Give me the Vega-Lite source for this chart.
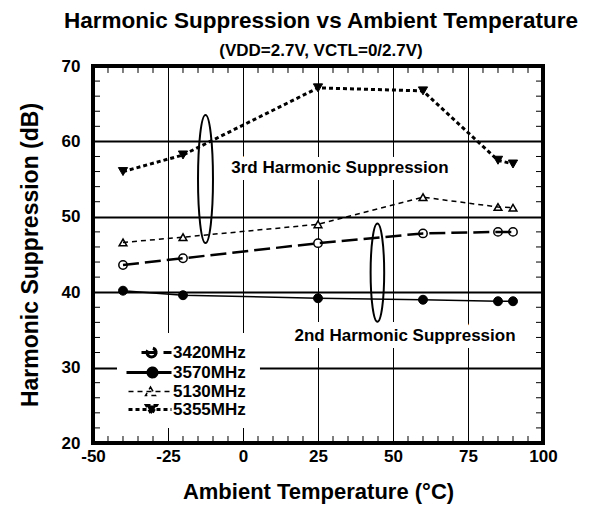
{
  "$schema": "https://vega.github.io/schema/vega-lite/v6.json",
  "width": 450,
  "height": 377,
  "autosize": {"type": "none"},
  "padding": {"left": 93, "top": 66, "right": 47, "bottom": 67},
  "background": "white",
  "config": {
    "view": {"stroke": "black", "strokeWidth": 4},
    "font": "Liberation Sans"
  },
  "title": {
    "text": "Harmonic Suppression vs Ambient Temperature",
    "subtitle": "(VDD=2.7V, VCTL=0/2.7V)",
    "font": "Liberation Sans", "subtitleFont": "Liberation Sans",
    "fontSize": 22.5, "subtitleFontSize": 17,
    "fontWeight": "bold", "subtitleFontWeight": "bold",
    "color": "black", "subtitleColor": "black",
    "anchor": "middle", "frame": "group", "offset": -2, "subtitlePadding": 11, "dx": 3
  },
  "datasets": {
    "series": [
      {"t": -40, "v": 43.6, "s": "3420MHz"},
      {"t": -20, "v": 44.5, "s": "3420MHz"},
      {"t": 25, "v": 46.5, "s": "3420MHz"},
      {"t": 60, "v": 47.8, "s": "3420MHz"},
      {"t": 85, "v": 48.0, "s": "3420MHz"},
      {"t": 90, "v": 48.0, "s": "3420MHz"},
      {"t": -40, "v": 40.2, "s": "3570MHz"},
      {"t": -20, "v": 39.6, "s": "3570MHz"},
      {"t": 25, "v": 39.2, "s": "3570MHz"},
      {"t": 60, "v": 39.0, "s": "3570MHz"},
      {"t": 85, "v": 38.8, "s": "3570MHz"},
      {"t": 90, "v": 38.8, "s": "3570MHz"},
      {"t": -40, "v": 46.6, "s": "5130MHz"},
      {"t": -20, "v": 47.3, "s": "5130MHz"},
      {"t": 25, "v": 49.0, "s": "5130MHz"},
      {"t": 60, "v": 52.6, "s": "5130MHz"},
      {"t": 85, "v": 51.3, "s": "5130MHz"},
      {"t": 90, "v": 51.2, "s": "5130MHz"},
      {"t": -40, "v": 56.0, "s": "5355MHz"},
      {"t": -20, "v": 58.2, "s": "5355MHz"},
      {"t": 25, "v": 67.1, "s": "5355MHz"},
      {"t": 60, "v": 66.7, "s": "5355MHz"},
      {"t": 85, "v": 57.5, "s": "5355MHz"},
      {"t": 90, "v": 57.0, "s": "5355MHz"}
    ],
    "notes": [
      {"t": 32.3, "v": 56.5, "label": "3rd Harmonic Suppression"},
      {"t": 54, "v": 34.2, "label": "2nd Harmonic Suppression"}
    ]
  },
  "layer": [
    {
      "data": {"name": "series"},
      "transform": [{"filter": {"field": "s", "equal": "3420MHz"}}],
      "mark": {"type": "point", "shape": "circle", "filled": true, "fill": "white", "stroke": "black", "strokeWidth": 1.5, "size": 70, "opacity": 1},
      "encoding": {
        "x": {"field": "t", "type": "quantitative", "scale": {"domain": [-50, 100], "nice": false, "zero": false},
          "axis": {"orient": "bottom", "values": [-50, -25, 0, 25, 50, 75, 100], "grid": true, "gridColor": "black", "gridWidth": 1, "ticks": false,
            "domain": false,
            "labelFont": "Liberation Sans", "labelFontWeight": "bold", "labelFontSize": 17, "labelColor": "black",
            "labelFlush": false, "labelOverlap": false, "labelPadding": 5, "labelExpr": "'' + datum.value",
            "title": "Ambient Temperature (°C)", "titleFont": "Liberation Sans", "titleFontWeight": "bold", "titleColor": "black",
            "titleFontSize": 22, "titleX": 225, "titleY": 55, "titleBaseline": "alphabetic", "titleAlign": "center"}},
        "y": {"field": "v", "type": "quantitative", "scale": {"domain": [20, 70], "nice": false, "zero": false},
          "axis": {"orient": "left", "values": [20, 30, 40, 50, 60, 70], "grid": true, "gridColor": "black", "gridWidth": 2, "ticks": false,
            "domain": false,
            "labelFont": "Liberation Sans", "labelFontWeight": "bold", "labelFontSize": 17, "labelColor": "black",
            "labelFlush": false, "labelOverlap": false, "labelPadding": 13,
            "title": "Harmonic Suppression (dB)", "titleFont": "Liberation Sans", "titleFontWeight": "bold", "titleColor": "black",
            "titleFontSize": 23, "titleX": -56, "titleY": 188.5, "titleBaseline": "alphabetic", "titleAlign": "center", "titleAngle": -90}}
      }
    },
    {
      "data": {"name": "series"},
      "transform": [{"filter": {"field": "s", "equal": "3570MHz"}}],
      "mark": {"type": "point", "shape": "circle", "filled": true, "fill": "black", "stroke": "black", "strokeWidth": 1, "size": 80, "opacity": 1},
      "encoding": {
        "x": {"field": "t", "type": "quantitative", "axis": null},
        "y": {"field": "v", "type": "quantitative", "axis": null}
      }
    },
    {
      "data": {"name": "series"},
      "transform": [{"filter": {"field": "s", "equal": "5130MHz"}}],
      "mark": {"type": "point", "shape": "triangle-up", "filled": true, "fill": "white", "stroke": "black", "strokeWidth": 1.5, "size": 60, "opacity": 1},
      "encoding": {
        "x": {"field": "t", "type": "quantitative", "axis": null},
        "y": {"field": "v", "type": "quantitative", "axis": null}
      }
    },
    {
      "data": {"name": "series"},
      "transform": [{"filter": {"field": "s", "equal": "5355MHz"}}],
      "mark": {"type": "point", "shape": "triangle-down", "filled": true, "fill": "black", "stroke": "black", "strokeWidth": 1, "size": 85, "opacity": 1},
      "encoding": {
        "x": {"field": "t", "type": "quantitative", "axis": null},
        "y": {"field": "v", "type": "quantitative", "axis": null}
      }
    },
    {
      "data": {"name": "series"},
      "transform": [{"filter": {"field": "s", "equal": "3420MHz"}}],
      "mark": {"type": "line", "stroke": "black", "strokeWidth": 2.5, "strokeCap": "butt"},
      "encoding": {
        "x": {"field": "t", "type": "quantitative", "axis": null},
        "y": {"field": "v", "type": "quantitative", "axis": null},
        "strokeDash": {"field": "s", "type": "nominal",
          "scale": {"domain": ["3420MHz", "3570MHz", "5130MHz", "5355MHz"], "range": [[16, 6], [1, 0], [5, 4], [4, 3]]},
          "legend": {
            "orient": "none", "legendX": 24, "legendY": 270, "title": null,
            "fillColor": "white", "padding": 8,
            "labelFont": "Liberation Sans", "labelFontSize": 17, "labelFontWeight": "bold", "labelColor": "black",
            "symbolSize": 100, "symbolStrokeColor": "black", "symbolStrokeWidth": 3,
            "rowPadding": -1, "labelOffset": 31,
            "encode": {"symbols": {"update": {
              "shape": {"signal": "datum.value === '3420MHz' ? 'M1.6,0L7.6,0M4.5,0A0.9,0.9,0,1,1,2.7,0A0.9,0.9,0,1,1,4.5,0Z' : datum.value === '3570MHz' ? 'M-1.4,0L7.6,0M4.7,0A0.9,0.9,0,1,1,2.9,0A0.9,0.9,0,1,1,4.7,0Z' : datum.value === '5130MHz' ? 'M-1,0L7.6,0M3.4,-0.9L4.4,0.8L2.4,0.8Z' : 'M-1,0L7.6,0M2.6,-0.8L4.6,-0.8L3.6,0.9Z'"},
              "fill": {"signal": "datum.value === '3570MHz' || datum.value === '5355MHz' ? 'black' : 'white'"},
              "stroke": {"value": "black"},
              "strokeWidth": {"signal": "datum.value === '5130MHz' ? 1.5 : 3"}
            }}}
          }}
      }
    },
    {
      "data": {"name": "series"},
      "transform": [{"filter": {"field": "s", "equal": "3570MHz"}}],
      "mark": {"type": "line", "stroke": "black", "strokeWidth": 1.5},
      "encoding": {
        "x": {"field": "t", "type": "quantitative", "axis": null},
        "y": {"field": "v", "type": "quantitative", "axis": null}
      }
    },
    {
      "data": {"name": "series"},
      "transform": [{"filter": {"field": "s", "equal": "5130MHz"}}],
      "mark": {"type": "line", "stroke": "black", "strokeWidth": 1.5, "strokeDash": [5, 4], "strokeCap": "butt"},
      "encoding": {
        "x": {"field": "t", "type": "quantitative", "axis": null},
        "y": {"field": "v", "type": "quantitative", "axis": null}
      }
    },
    {
      "data": {"name": "series"},
      "transform": [{"filter": {"field": "s", "equal": "5355MHz"}}],
      "mark": {"type": "line", "stroke": "black", "strokeWidth": 3, "strokeDash": [4, 3], "strokeCap": "butt"},
      "encoding": {
        "x": {"field": "t", "type": "quantitative", "axis": null},
        "y": {"field": "v", "type": "quantitative", "axis": null}
      }
    },
    {
      "data": {"values": [{"t": -18.17, "v": 28.95}]},
      "mark": {"type": "point", "shape": "M-1.682,-1L1.682,-1L1.682,1L-1.682,1Z", "size": 7225, "filled": true, "fill": "white", "strokeWidth": 0, "opacity": 1},
      "encoding": {
        "x": {"field": "t", "type": "quantitative", "axis": null},
        "y": {"field": "v", "type": "quantitative", "axis": null}
      }
    },
    {
      "data": {"values": [{"t": -12.5, "v": 55.0}]},
      "mark": {"type": "point", "shape": "M0,-1A0.117,1,0,0,1,0,1A0.117,1,0,0,1,0,-1Z", "size": 16384, "filled": false, "stroke": "black", "strokeWidth": 2, "opacity": 1},
      "encoding": {
        "x": {"field": "t", "type": "quantitative", "axis": null},
        "y": {"field": "v", "type": "quantitative", "axis": null}
      }
    },
    {
      "data": {"values": [{"t": 44.8, "v": 42.6}]},
      "mark": {"type": "point", "shape": "M0,-1A0.138,1,0,0,1,0,1A0.138,1,0,0,1,0,-1Z", "size": 9683, "filled": false, "stroke": "black", "strokeWidth": 2, "opacity": 1},
      "encoding": {
        "x": {"field": "t", "type": "quantitative", "axis": null},
        "y": {"field": "v", "type": "quantitative", "axis": null}
      }
    },
    {
      "data": {"name": "notes"},
      "mark": {"type": "text", "font": "Liberation Sans", "fontWeight": "bold", "fontSize": 17, "stroke": "white", "strokeWidth": 14, "fill": "white", "baseline": "middle", "align": "center"},
      "encoding": {
        "x": {"field": "t", "type": "quantitative", "axis": null},
        "y": {"field": "v", "type": "quantitative", "axis": null},
        "text": {"field": "label"}
      }
    },
    {
      "data": {"name": "notes"},
      "mark": {"type": "text", "font": "Liberation Sans", "fontWeight": "bold", "fontSize": 17, "fill": "black", "baseline": "middle", "align": "center"},
      "encoding": {
        "x": {"field": "t", "type": "quantitative", "axis": null},
        "y": {"field": "v", "type": "quantitative", "axis": null},
        "text": {"field": "label"}
      }
    },
    {
      "data": {"values": [{"t": 25, "v": 45}]},
      "mark": {"type": "point", "shape": "M-1.1141,1L-1.1141,0.963M-1.1141,-1L-1.1141,-0.963M-1.0345,1L-1.0345,0.963M-1.0345,-1L-1.0345,-0.963M-0.9549,1L-0.9549,0.963M-0.9549,-1L-0.9549,-0.963M-0.8753,1L-0.8753,0.963M-0.8753,-1L-0.8753,-0.963M-0.7162,1L-0.7162,0.963M-0.7162,-1L-0.7162,-0.963M-0.6366,1L-0.6366,0.963M-0.6366,-1L-0.6366,-0.963M-0.557,1L-0.557,0.963M-0.557,-1L-0.557,-0.963M-0.4775,1L-0.4775,0.963M-0.4775,-1L-0.4775,-0.963M-0.3183,1L-0.3183,0.963M-0.3183,-1L-0.3183,-0.963M-0.2387,1L-0.2387,0.963M-0.2387,-1L-0.2387,-0.963M-0.1592,1L-0.1592,0.963M-0.1592,-1L-0.1592,-0.963M-0.0796,1L-0.0796,0.963M-0.0796,-1L-0.0796,-0.963M0.0796,1L0.0796,0.963M0.0796,-1L0.0796,-0.963M0.1592,1L0.1592,0.963M0.1592,-1L0.1592,-0.963M0.2387,1L0.2387,0.963M0.2387,-1L0.2387,-0.963M0.3183,1L0.3183,0.963M0.3183,-1L0.3183,-0.963M0.4775,1L0.4775,0.963M0.4775,-1L0.4775,-0.963M0.557,1L0.557,0.963M0.557,-1L0.557,-0.963M0.6366,1L0.6366,0.963M0.6366,-1L0.6366,-0.963M0.7162,1L0.7162,0.963M0.7162,-1L0.7162,-0.963M0.8753,1L0.8753,0.963M0.8753,-1L0.8753,-0.963M0.9549,1L0.9549,0.963M0.9549,-1L0.9549,-0.963M1.0345,1L1.0345,0.963M1.0345,-1L1.0345,-0.963M1.1141,1L1.1141,0.963M1.1141,-1L1.1141,-0.963M-1.1936,0.92L-1.1565,0.92M1.1936,0.92L1.1565,0.92M-1.1936,0.84L-1.1565,0.84M1.1936,0.84L1.1565,0.84M-1.1936,0.76L-1.1565,0.76M1.1936,0.76L1.1565,0.76M-1.1936,0.68L-1.1565,0.68M1.1936,0.68L1.1565,0.68M-1.1936,0.52L-1.1565,0.52M1.1936,0.52L1.1565,0.52M-1.1936,0.44L-1.1565,0.44M1.1936,0.44L1.1565,0.44M-1.1936,0.36L-1.1565,0.36M1.1936,0.36L1.1565,0.36M-1.1936,0.28L-1.1565,0.28M1.1936,0.28L1.1565,0.28M-1.1936,0.12L-1.1565,0.12M1.1936,0.12L1.1565,0.12M-1.1936,0.04L-1.1565,0.04M1.1936,0.04L1.1565,0.04M-1.1936,-0.04L-1.1565,-0.04M1.1936,-0.04L1.1565,-0.04M-1.1936,-0.12L-1.1565,-0.12M1.1936,-0.12L1.1565,-0.12M-1.1936,-0.28L-1.1565,-0.28M1.1936,-0.28L1.1565,-0.28M-1.1936,-0.36L-1.1565,-0.36M1.1936,-0.36L1.1565,-0.36M-1.1936,-0.44L-1.1565,-0.44M1.1936,-0.44L1.1565,-0.44M-1.1936,-0.52L-1.1565,-0.52M1.1936,-0.52L1.1565,-0.52M-1.1936,-0.68L-1.1565,-0.68M1.1936,-0.68L1.1565,-0.68M-1.1936,-0.76L-1.1565,-0.76M1.1936,-0.76L1.1565,-0.76M-1.1936,-0.84L-1.1565,-0.84M1.1936,-0.84L1.1565,-0.84M-1.1936,-0.92L-1.1565,-0.92M1.1936,-0.92L1.1565,-0.92", "size": 142129, "filled": false, "stroke": "black", "strokeWidth": 1, "opacity": 1},
      "encoding": {
        "x": {"field": "t", "type": "quantitative", "axis": null},
        "y": {"field": "v", "type": "quantitative", "axis": null}
      }
    },
    {
      "data": {"values": [{"t": 25, "v": 45}]},
      "mark": {"type": "point", "shape": "M-1.1936,-1L1.1936,-1L1.1936,1L-1.1936,1Z", "size": 142129, "filled": false, "stroke": "black", "strokeWidth": 4, "opacity": 1},
      "encoding": {
        "x": {"field": "t", "type": "quantitative", "axis": null},
        "y": {"field": "v", "type": "quantitative", "axis": null}
      }
    }
  ],
  "resolve": {"axis": {"x": "independent", "y": "independent"}}
}
